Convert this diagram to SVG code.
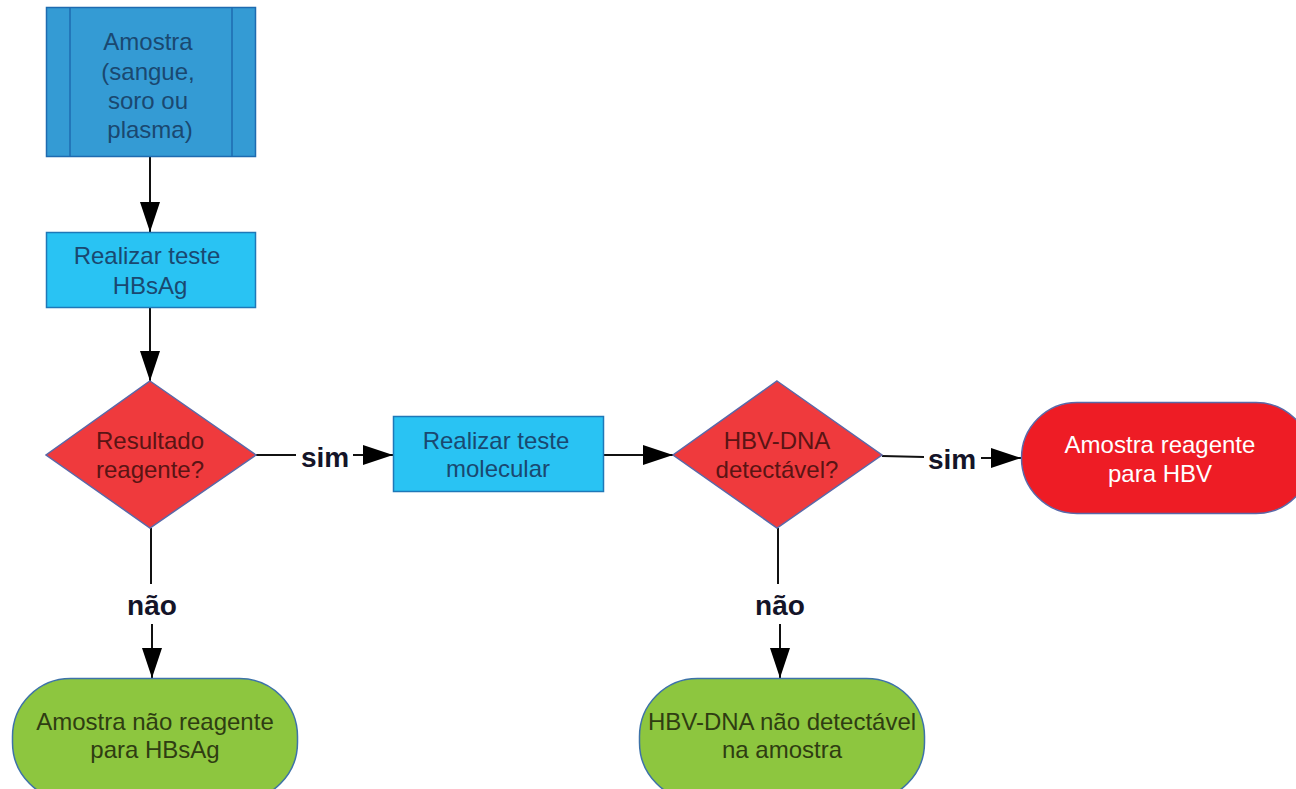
<svg xmlns="http://www.w3.org/2000/svg" width="1296" height="789" viewBox="0 0 1296 789">
<defs>
<marker id="arr" viewBox="0 0 30 20" refX="30" refY="10" markerWidth="30" markerHeight="20" markerUnits="userSpaceOnUse" orient="auto">
<path d="M0,0 L30,10 L0,20 Z" fill="#000"/>
</marker>
<style>
text{font-family:"Liberation Sans",Arial,sans-serif;font-size:24px;text-anchor:middle}
.blue{fill:#1a4870}
.red{fill:#5a1414}
.green{fill:#2f3d12}
.white{fill:#ffffff}
.lbl{font-size:28px;font-weight:bold;fill:#141428}
.edge{stroke:#111;stroke-width:2;fill:none}
</style>
</defs>
<rect width="1296" height="789" fill="#fff"/>
<g id="connectors">
<line class="edge" x1="150" y1="157" x2="150" y2="232" marker-end="url(#arr)"/>
<line class="edge" x1="150" y1="308" x2="150" y2="381" marker-end="url(#arr)"/>
<line class="edge" x1="256" y1="455" x2="296" y2="455"/>
<line class="edge" x1="353" y1="455" x2="393" y2="455" marker-end="url(#arr)"/>
<text class="lbl" x="325" y="467">sim</text>
<line class="edge" x1="604" y1="455" x2="673" y2="455" marker-end="url(#arr)"/>
<line class="edge" x1="882" y1="456" x2="924" y2="457" stroke="#555"/>
<line class="edge" x1="981" y1="458" x2="1021" y2="458" marker-end="url(#arr)"/>
<text class="lbl" x="952" y="469">sim</text>
<line class="edge" x1="151" y1="528" x2="151" y2="584" stroke="#444"/>
<line class="edge" x1="152" y1="624" x2="152" y2="678" marker-end="url(#arr)"/>
<text class="lbl" x="152" y="615">não</text>
<line class="edge" x1="778" y1="528" x2="778" y2="584" stroke="#444"/>
<line class="edge" x1="780" y1="624" x2="780" y2="678" marker-end="url(#arr)"/>
<text class="lbl" x="780" y="615">não</text>
</g>
<g id="amostra">
<rect x="46.5" y="7.5" width="209" height="149" fill="#349bd4" stroke="#1e6bb0" stroke-width="1.5"/>
<line x1="70" y1="7.5" x2="70" y2="156.5" stroke="#1e6bb0" stroke-width="1.5"/>
<line x1="232" y1="7.5" x2="232" y2="156.5" stroke="#1e6bb0" stroke-width="1.5"/>
<text class="blue" x="148" y="50">Amostra</text>
<text class="blue" x="148" y="80">(sangue,</text>
<text class="blue" x="148" y="109">soro ou</text>
<text class="blue" x="150" y="138">plasma)</text>
</g>
<g id="teste-hbsag">
<rect x="46.5" y="232.5" width="209" height="75" fill="#29c3f3" stroke="#1e78b8" stroke-width="1.5"/>
<text class="blue" x="147" y="264">Realizar teste</text>
<text class="blue" x="150" y="294">HBsAg</text>
</g>
<g id="resultado">
<polygon points="150,381 256,455 150,528 46,455" fill="#ef3a3d" stroke="#5a68a8" stroke-width="1.5"/>
<text class="red" x="150" y="449">Resultado</text>
<text class="red" x="150" y="478">reagente?</text>
</g>
<g id="teste-molecular">
<rect x="393.5" y="416.5" width="210" height="75" fill="#29c3f3" stroke="#1e78b8" stroke-width="1.5"/>
<text class="blue" x="496" y="449">Realizar teste</text>
<text class="blue" x="498" y="477">molecular</text>
</g>
<g id="hbv-dna">
<polygon points="777,381 882,455 777,528 673,455" fill="#ef3a3d" stroke="#5a68a8" stroke-width="1.5"/>
<text class="red" x="777" y="449">HBV-DNA</text>
<text class="red" x="777" y="478">detectável?</text>
</g>
<g id="reagente-hbv">
<rect x="1021.5" y="402.5" width="290" height="111" rx="55.5" ry="55.5" fill="#ee1c25" stroke="#5a68a8" stroke-width="1.5"/>
<text class="white" x="1160" y="453">Amostra reagente</text>
<text class="white" x="1160" y="482">para HBV</text>
</g>
<g id="nao-reagente">
<rect x="12.5" y="678.5" width="285" height="122" rx="58" ry="58" fill="#8dc63f" stroke="#3d72a8" stroke-width="1.5"/>
<text class="green" x="155" y="730">Amostra não reagente</text>
<text class="green" x="155" y="758">para HBsAg</text>
</g>
<g id="nao-detectavel">
<rect x="639.5" y="678.5" width="285" height="122" rx="58" ry="58" fill="#8dc63f" stroke="#3d72a8" stroke-width="1.5"/>
<text class="green" x="782" y="730">HBV-DNA não detectável</text>
<text class="green" x="782" y="758">na amostra</text>
</g>
</svg>
